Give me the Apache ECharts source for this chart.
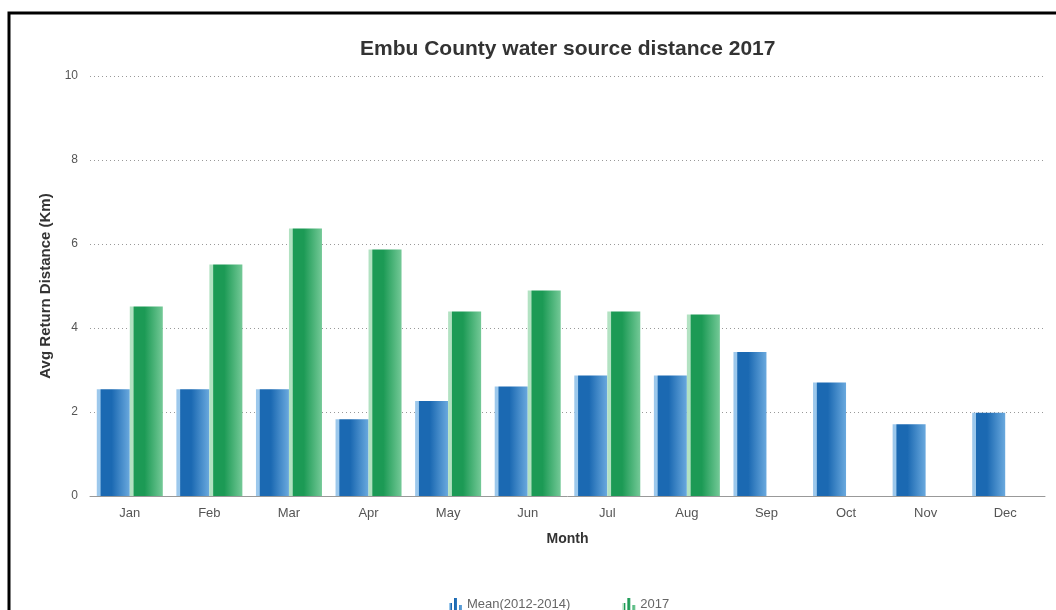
<!DOCTYPE html>
<html lang="en">
<head>
    <meta charset="UTF-8">
    <title>Embu County water source distance 2017</title>
    <script src="https://cdn.jsdelivr.net/npm/echarts@6/dist/echarts.min.js"></script>
    <style>
        html, body { margin: 0; padding: 0; background: #fff; }
    </style>
</head>
<body>
<div id="main" style="width: 1056px;height:610px;"></div>
<script type="text/javascript">
    // data
    var months = ['Jan', 'Feb', 'Mar', 'Apr', 'May', 'Jun', 'Jul', 'Aug', 'Sep', 'Oct', 'Nov', 'Dec'];
    var meanValues = [2.54, 2.54, 2.54, 1.83, 2.26, 2.61, 2.87, 2.87, 3.43, 2.70, 1.71, 1.98];
    var values2017 = [4.51, 5.51, 6.37, 5.87, 4.39, 4.89, 4.39, 4.32, null, null, null, null];
    var seriesNames = ['Mean(2012-2014)', '2017'];

    var barIcon = 'path://M0,5h3v8h-3z M5,0h3v13h-3z M10,7h3v6h-3z';

    function barGradient(edge, dark, light) {
        return new echarts.graphic.LinearGradient(0, 0, 1, 0, [
            {offset: 0, color: edge},
            {offset: 0.1, color: edge},
            {offset: 0.13, color: dark},
            {offset: 0.45, color: dark},
            {offset: 1, color: light}
        ]);
    }

    var myChart = echarts.init(document.getElementById('main'));
    myChart.setOption({
        animation: false,
        textStyle: {fontFamily: 'Liberation Sans, Arial, sans-serif'},
        graphic: [{
            type: 'rect',
            shape: {x: 9, y: 13, width: 1060, height: 620},
            style: {fill: 'none', stroke: '#000', lineWidth: 3},
            silent: true
        }],
        title: {
            text: 'Embu County water source distance 2017',
            left: 360,
            top: 39,
            padding: 0,
            textStyle: {fontSize: 21, fontWeight: 'bold', color: '#333'}
        },
        legend: {
            data: seriesNames,
            top: 598,
            left: 449,
            padding: 0,
            itemGap: 52,
            itemWidth: 13,
            itemHeight: 13,
            icon: barIcon,
            textStyle: {color: '#666', fontSize: 13}
        },
        grid: {
            left: 90,
            right: 11,
            top: 76,
            bottom: 114
        },
        xAxis: {
            type: 'category',
            data: months,
            name: 'Month',
            nameLocation: 'middle',
            nameGap: 36,
            nameTextStyle: {fontWeight: 'bold', fontSize: 14, color: '#333'},
            axisLine: {lineStyle: {color: '#999'}},
            axisTick: {show: false},
            axisLabel: {color: '#555', fontSize: 13, margin: 11}
        },
        yAxis: {
            type: 'value',
            min: 0,
            max: 10,
            interval: 2,
            name: 'Avg Return Distance (Km)',
            nameLocation: 'middle',
            nameGap: 37,
            nameTextStyle: {fontWeight: 'bold', fontSize: 15, color: '#333'},
            axisLabel: {color: '#555', fontSize: 12, margin: 12},
            splitLine: {lineStyle: {color: '#999', type: [1, 3]}}
        },
        series: [{
            name: seriesNames[0],
            type: 'bar',
            data: meanValues,
            barWidth: 33,
            barGap: '0%',
            itemStyle: {color: barGradient('#9cc8ec', '#1b69b2', '#6aa9de')}
        }, {
            name: seriesNames[1],
            type: 'bar',
            data: values2017,
            barWidth: 33,
            barGap: '0%',
            itemStyle: {color: barGradient('#b2e2c2', '#1c9a55', '#74c997')}
        }]
    });
</script>
</body>
</html>
